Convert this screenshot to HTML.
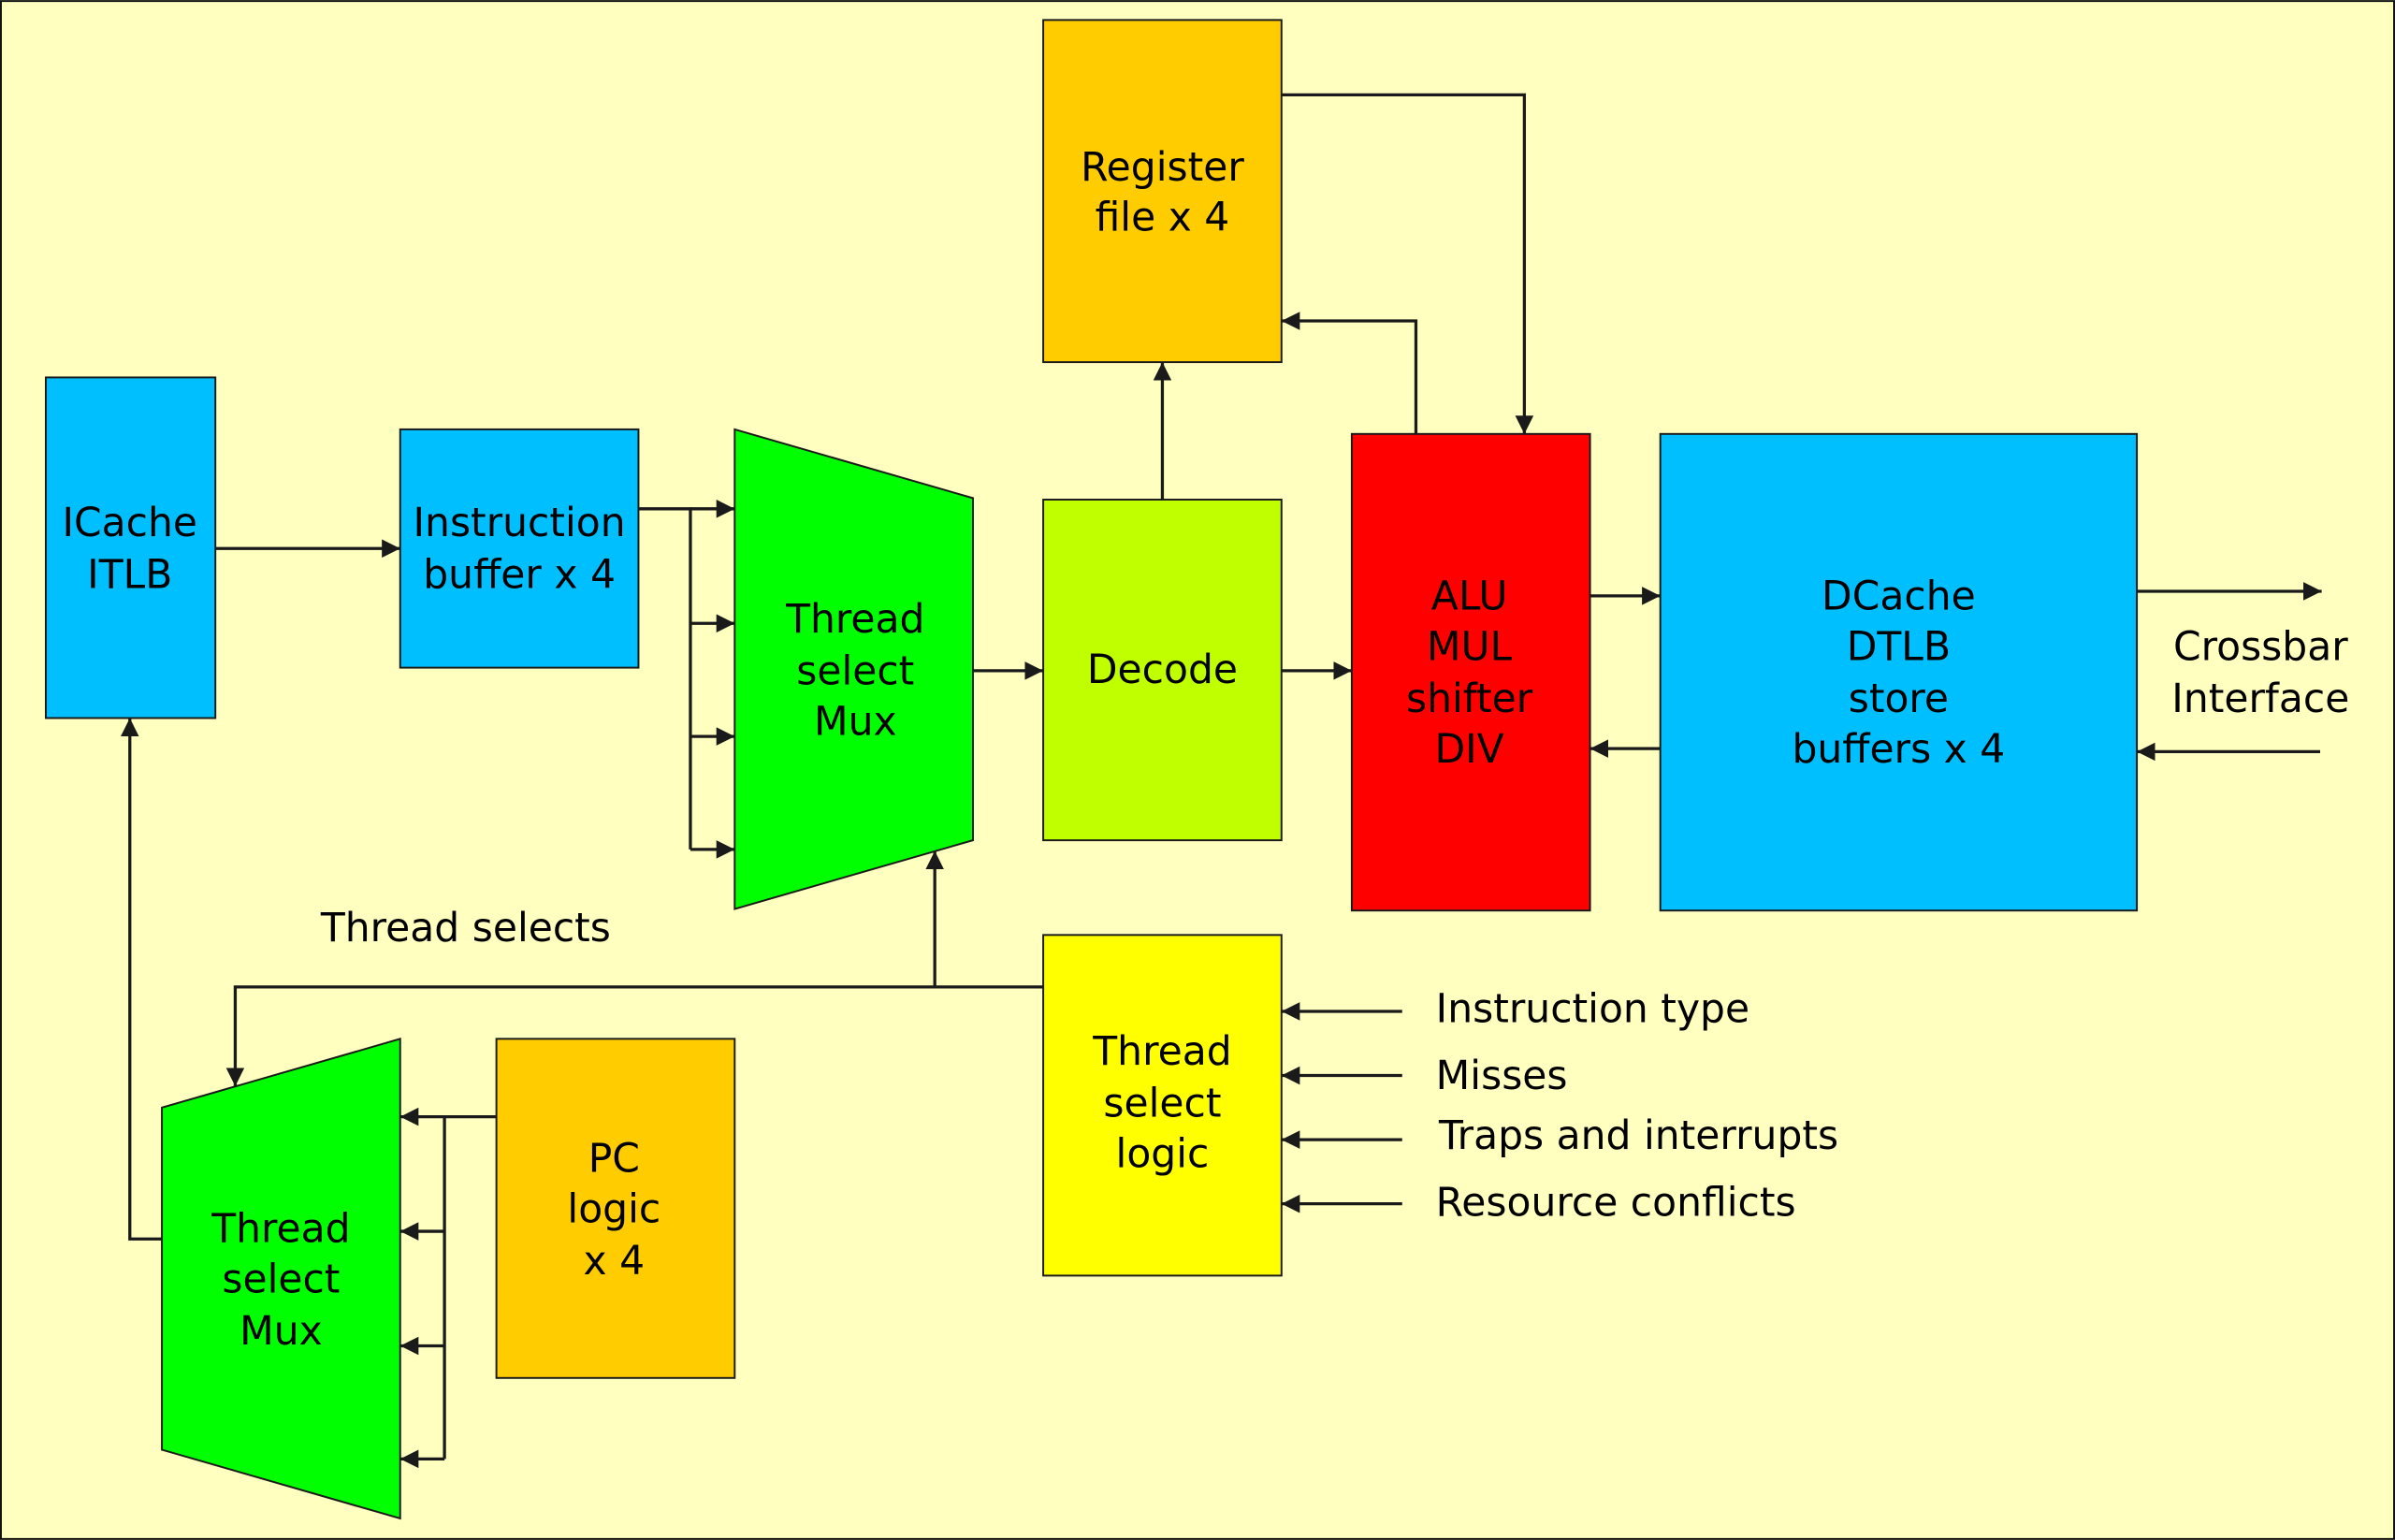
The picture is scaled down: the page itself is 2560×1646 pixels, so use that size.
<!DOCTYPE html>
<html><head><meta charset="utf-8"><style>html,body{margin:0;padding:0;background:#ffffc0}svg{display:block}</style></head>
<body>
<svg width="2560" height="1646" viewBox="0 0 1568 1008" xmlns="http://www.w3.org/2000/svg" font-family="DejaVu Sans, Liberation Sans, sans-serif" font-size="26" fill="#000">
<defs>
<marker id="a" viewBox="0 0 10 10" refX="10" refY="5" markerWidth="12" markerHeight="12" markerUnits="userSpaceOnUse" orient="auto"><path d="M0,0 L10,5 L0,10 z" fill="#1a1a1a"/></marker>
</defs>
<rect x="0.6" y="0.6" width="1566.8" height="1006.8" fill="#ffffc0" stroke="#111" stroke-width="1.2"/>
<g stroke="#1a1a1a" stroke-width="1.2">
<rect x="30" y="247" width="111" height="223" fill="#00bfff"/>
<rect x="262" y="281" width="156" height="156" fill="#00bfff"/>
<polygon points="481,281 637,326 637,550 481,595" fill="#00ff00"/>
<rect x="683" y="327" width="156" height="223" fill="#bfff00"/>
<rect x="683" y="13" width="156" height="224" fill="#ffcc00"/>
<rect x="885" y="284" width="156" height="312" fill="#ff0000"/>
<rect x="1087" y="284" width="312" height="312" fill="#00bfff"/>
<rect x="683" y="612" width="156" height="223" fill="#ffff00"/>
<rect x="325" y="680" width="156" height="222" fill="#ffcc00"/>
<polygon points="106,725 262,680 262,994 106,949" fill="#00ff00"/>
</g>
<g stroke="#1a1a1a" stroke-width="2" fill="none">
<path d="M141,359 H262" marker-end="url(#a)"/>
<path d="M418,333 H452 V556"/>
<path d="M452,333 H481" marker-end="url(#a)"/>
<path d="M452,408 H481" marker-end="url(#a)"/>
<path d="M452,482 H481" marker-end="url(#a)"/>
<path d="M452,556 H481" marker-end="url(#a)"/>
<path d="M637,439 H683" marker-end="url(#a)"/>
<path d="M839,439 H885" marker-end="url(#a)"/>
<path d="M761,327 V237" marker-end="url(#a)"/>
<path d="M927,284 V210 H839" marker-end="url(#a)"/>
<path d="M839,62 H998 V284" marker-end="url(#a)"/>
<path d="M1041,390 H1087" marker-end="url(#a)"/>
<path d="M1087,490 H1041" marker-end="url(#a)"/>
<path d="M1399,387 H1520" marker-end="url(#a)"/>
<path d="M1519,492 H1399" marker-end="url(#a)"/>
<path d="M683,646 H154 V711" marker-end="url(#a)"/>
<path d="M612,646 V557" marker-end="url(#a)"/>
<path d="M918,662 H839" marker-end="url(#a)"/>
<path d="M918,704 H839" marker-end="url(#a)"/>
<path d="M918,746 H839" marker-end="url(#a)"/>
<path d="M918,788 H839" marker-end="url(#a)"/>
<path d="M325,731 H291 V955"/>
<path d="M291,731 H262" marker-end="url(#a)"/>
<path d="M291,806 H262" marker-end="url(#a)"/>
<path d="M291,881 H262" marker-end="url(#a)"/>
<path d="M291,955 H262" marker-end="url(#a)"/>
<path d="M106,811 H85 V470" marker-end="url(#a)"/>
</g>
<g text-anchor="middle">
<text x="85" y="351">ICache</text><text x="85" y="385">ITLB</text>
<text x="340" y="351">Instruction</text><text x="340" y="385">buffer x 4</text>
<text x="560" y="414">Thread</text><text x="560" y="448">select</text><text x="560" y="481">Mux</text>
<text x="761" y="447">Decode</text>
<text x="761" y="118">Register</text><text x="761" y="151">file x 4</text>
<text x="962" y="399">ALU</text><text x="962" y="432">MUL</text><text x="962" y="466">shifter</text><text x="962" y="499">DIV</text>
<text x="1243" y="399">DCache</text><text x="1243" y="432">DTLB</text><text x="1243" y="466">store</text><text x="1243" y="499">buffers x 4</text>
<text x="1480" y="432">Crossbar</text><text x="1480" y="466">Interface</text>
<text x="761" y="697">Thread</text><text x="761" y="731">select</text><text x="761" y="764">logic</text>
<text x="402" y="767">PC</text><text x="402" y="800">logic</text><text x="402" y="834">x 4</text>
<text x="184" y="813">Thread</text><text x="184" y="846">select</text><text x="184" y="880">Mux</text>
</g>
<text x="210" y="616">Thread selects</text>
<text x="940" y="669">Instruction type</text>
<text x="940" y="713">Misses</text>
<text x="942" y="752">Traps and interrupts</text>
<text x="940" y="796">Resource conflicts</text>
</svg>
</body></html>
